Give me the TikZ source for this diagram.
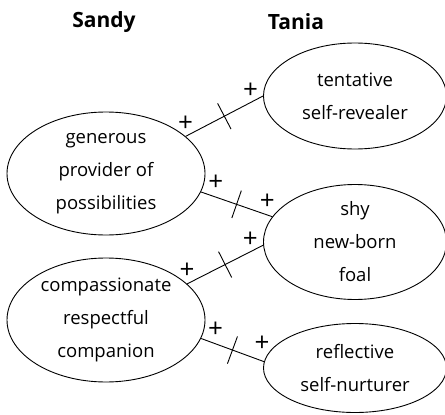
\documentclass[tikz,border=0pt]{standalone}
\usepackage{fontspec}
\setmainfont{Open Sans}
\usetikzlibrary{shapes.geometric,decorations.markings}

\tikzset{
	trait/.style={draw, ellipse, line width=0.9pt, inner sep=0pt, align=center,
		font=\fontsize{18.5}{33}\selectfont},
	person/.style={font=\fontsize{21}{24}\selectfont\bfseries},
	link/.style={line width=0.9pt,
		decoration={markings, mark=at position 0.5 with {\draw[line width=0.9pt] (0,-14.5pt) -- (0,14.5pt);}},
		postaction={decorate}},
	plus/.style={inner sep=0pt, font=\fontsize{26}{26}\selectfont}
}

\begin{document}
\begin{tikzpicture}[x=1pt, y=-1pt]
			%%%%% START %%%%%
			\useasboundingbox (0, 0) rectangle (445, 415);
			
			\node[person] (sandy) at (104, 22) {Sandy};
			\node[person] (tania) at (296, 22) {Tania};
			
			\node[trait, minimum width=198, minimum height=123] (s1) at (106, 173.5) {generous\\provider of\\possibilities};
			\node[trait, minimum width=198, minimum height=124] (s2) at (106, 320) {compassionate\\respectful\\companion};
			
			\node[trait, minimum width=183, minimum height=106] (t1) at (355, 96) {tentative\\self-revealer};
			\node[trait, minimum width=183, minimum height=115] (t2) at (355, 242) {shy\\new-born\\foal};
			\node[trait, minimum width=183, minimum height=89] (t3) at (355, 368) {reflective\\self-nurturer};
			
			\draw[link] (s1.25) -- node[plus, pos=0, yshift=13pt] {+} node[plus, pos=0.84, yshift=12pt] {+} (t1.180);
			\draw[link] (s1.-11) -- node[plus, pos=0.21, yshift=14pt] {+} node[plus, pos=0.93, yshift=13pt] {+} (t2.163);
			\draw[link] (s2.24) -- node[plus, pos=0, yshift=13pt] {+} node[plus, pos=0.83, yshift=12pt] {+} (t2.182);
			\draw[link] (s2.-11) -- node[plus, pos=0.23, yshift=14pt] {+} node[plus, pos=0.97, yshift=17pt] {+} (t3.176);
			
			%%%%% END %%%%%
\end{tikzpicture}
\end{document}
